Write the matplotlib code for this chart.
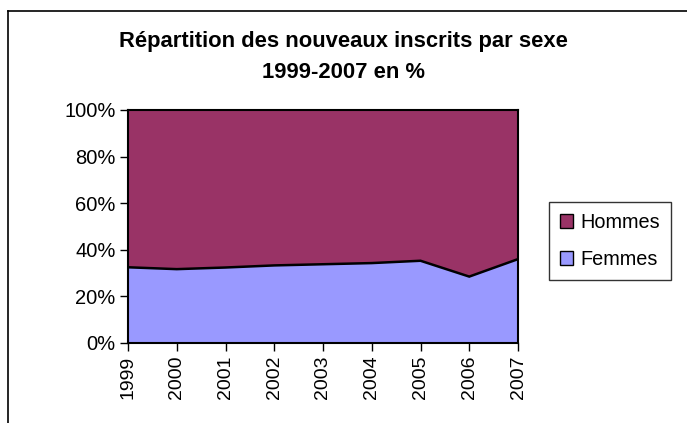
import matplotlib
matplotlib.use("Agg")
import matplotlib.pyplot as plt
from matplotlib.lines import Line2D
from matplotlib.patches import Patch

years = [1999, 2000, 2001, 2002, 2003, 2004, 2005, 2006, 2007]
femmes = [32.5, 31.7, 32.4, 33.3, 33.8, 34.3, 35.3, 28.5, 36.0]
hommes = [100 - f for f in femmes]
yticks = [0, 20, 40, 60, 80, 100]
ytick_labels = ["0%", "20%", "40%", "60%", "80%", "100%"]
title_lines = ["Répartition des nouveaux inscrits par sexe", "1999-2007 en %"]
series_names = ["Hommes", "Femmes"]

col_h = "#993366"
col_f = "#9999FF"

plt.rcParams['font.family'] = ['Liberation Sans', 'DejaVu Sans']

W, H = 687, 423
fig = plt.figure(figsize=(W / 100, H / 100), dpi=100)

left, right, top, bottom = 128, 518, 110, 343
ax = fig.add_axes([left / W, 1 - bottom / H, (right - left) / W, (bottom - top) / H])

ax.stackplot(years, femmes, hommes, colors=[col_f, col_h], linewidth=0)
ax.plot(years, femmes, color="black", lw=1.8, solid_joinstyle="miter")

ax.set_xlim(years[0], years[-1])
ax.set_ylim(0, 100)
ax.set_yticks(yticks)
ax.set_yticklabels(ytick_labels, fontsize=14.5)
ax.set_xticks(years)
ax.set_xticklabels([str(y) for y in years], rotation=90, fontsize=14)
ax.tick_params(axis="both", direction="out", length=6, width=1, color="black", pad=3)
for s in ax.spines.values():
    s.set_color("black")
    s.set_linewidth(1.5)

# Title
fig.text(343 / W, 1 - 42 / H, title_lines[0], ha="center", va="center",
         fontsize=15.8, fontweight="bold")
fig.text(343 / W, 1 - 73 / H, title_lines[1], ha="center", va="center",
         fontsize=15.8, fontweight="bold")

# Legend
handles = [Patch(facecolor=col_h, edgecolor="black", linewidth=1),
           Patch(facecolor=col_f, edgecolor="black", linewidth=1)]
leg = fig.legend(handles, series_names, loc="center",
                 bbox_to_anchor=(610 / W, 1 - 241 / H),
                 fontsize=14.3, frameon=True, fancybox=False,
                 handlelength=0.65, handleheight=0.65, handletextpad=0.4,
                 labelspacing=0.9, borderpad=0.55, borderaxespad=0)
leg.get_frame().set_edgecolor("black")
leg.get_frame().set_linewidth(1)

# Outer chart border (top and left visible)
fig.add_artist(Line2D([8 / W, 1.0], [1 - 11 / H, 1 - 11 / H], color="black", lw=1.2,
                      transform=fig.transFigure))
fig.add_artist(Line2D([8 / W, 8 / W], [1 - 11 / H, 0.0], color="black", lw=1.2,
                      transform=fig.transFigure))

fig.savefig("out.png", dpi=100)
